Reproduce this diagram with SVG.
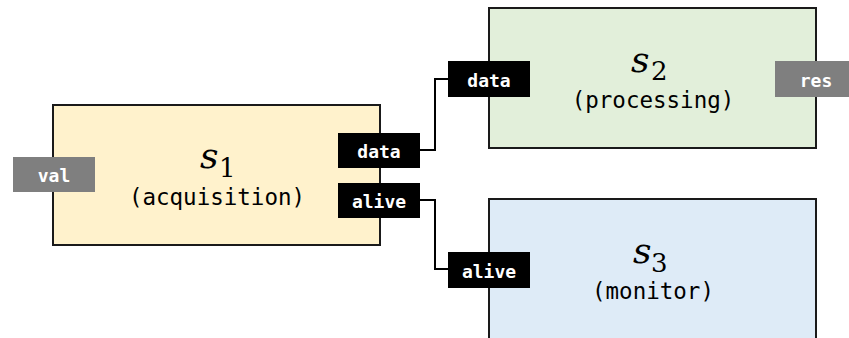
<svg xmlns="http://www.w3.org/2000/svg" width="849" height="338" viewBox="0 0 849 338">
<style>
.box{stroke:#1a1a1a;stroke-width:2}
.port{fill:#000}
.ext{fill:#7f7f7f}
.pl{font-family:"DejaVu Sans Mono",monospace;font-weight:bold;font-size:18px;fill:#fff;text-anchor:middle}
.sub{font-family:"DejaVu Sans Mono",monospace;font-size:22.5px;fill:#000;text-anchor:middle}
.m{font-family:"DejaVu Serif",serif;font-style:italic;font-size:36px;fill:#000}
.mi{font-family:"DejaVu Serif",serif;font-size:26px;fill:#000}
.wire{fill:none;stroke:#000;stroke-width:2}
</style>
<rect width="849" height="338" fill="#fff"/>
<g id="connectors">
<polyline class="wire" points="420,150 435,150 435,79 448,79"/>
<polyline class="wire" points="420,200 435,200 435,269 448,269"/>
</g>
<g id="s1">
<rect class="box" x="53" y="105" width="327" height="140" fill="#fff2cc"/>
<text class="m" x="200" y="168">s</text>
<text class="mi" x="219" y="177">1</text>
<text class="sub" x="217" y="205">(acquisition)</text>
<rect class="ext" x="13" y="157" width="82" height="35"/>
<text class="pl" x="54" y="182">val</text>
<rect class="port" x="338" y="133" width="82" height="35"/>
<text class="pl" x="379" y="158">data</text>
<rect class="port" x="338" y="183" width="82" height="35"/>
<text class="pl" x="379" y="208">alive</text>
</g>
<g id="s2">
<rect class="box" x="489" y="8" width="327" height="140" fill="#e2efda"/>
<text class="m" x="631" y="72">s</text>
<text class="mi" x="651" y="80">2</text>
<text class="sub" x="653" y="108">(processing)</text>
<rect class="port" x="448" y="61" width="82" height="36"/>
<text class="pl" x="489" y="86.5">data</text>
<rect class="ext" x="775" y="61" width="82" height="36"/>
<text class="pl" x="816" y="86.5">res</text>
</g>
<g id="s3">
<rect class="box" x="489" y="199" width="327" height="150" fill="#deebf7"/>
<text class="m" x="633" y="263">s</text>
<text class="mi" x="651" y="272">3</text>
<text class="sub" x="653" y="299">(monitor)</text>
<rect class="port" x="448" y="252" width="82" height="36"/>
<text class="pl" x="489" y="277.5">alive</text>
</g>
</svg>
